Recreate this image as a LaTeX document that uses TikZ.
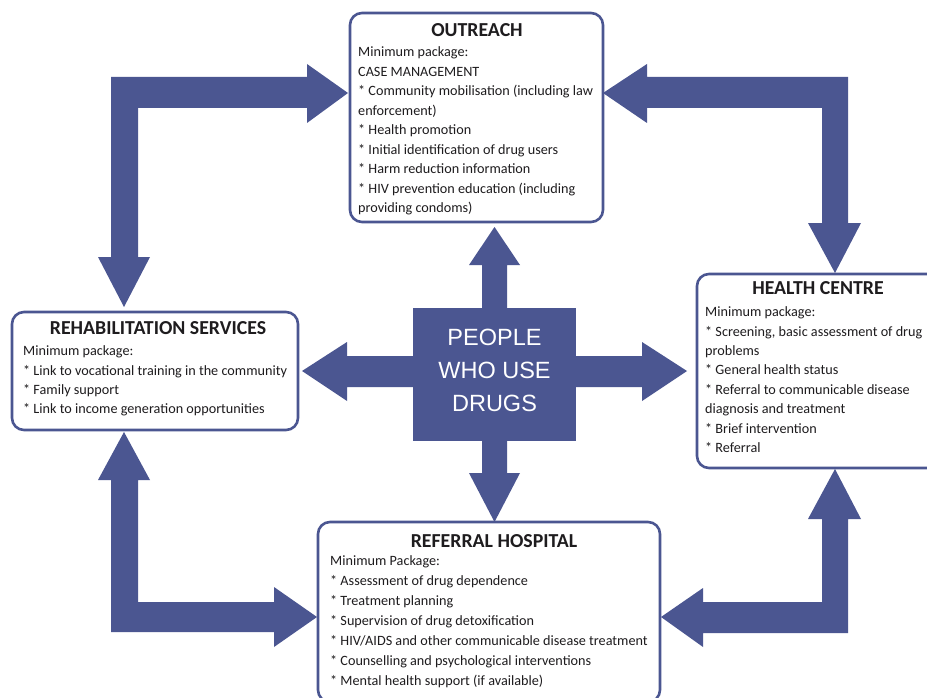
\documentclass[tikz,border=0pt]{standalone}
\usepackage{fontspec}
\setmainfont{Carlito}
\newfontfamily\arialfont{Liberation Sans}
\definecolor{bblue}{RGB}{75,86,145}
\definecolor{ink}{RGB}{30,28,30}
\tikzset{
  box/.style={draw=bblue, line width=2.6pt, fill=white, rounded corners=12pt},
  blockarrow/.style={fill=bblue, draw=none},
  boxtitle/.style={inner sep=0pt, anchor=center, text=ink, font=\fontsize{19.8}{22}\selectfont\bfseries},
  boxbody/.style={inner sep=0pt, anchor=north west, align=left, text=ink},
  centertext/.style={inner sep=0pt, align=center, text=white, font=\arialfont\fontsize{23.5}{33}\selectfont}
}
\newcommand{\fs}[1]{\fontsize{14.2}{#1}\selectfont}
\newcommand{\fst}{\rule{0pt}{14pt}}
\begin{document}
\begin{tikzpicture}[x=1pt,y=-1pt]
\useasboundingbox (0,0) rectangle (927,698);
\clip (0,0) rectangle (927,698);
\fill[white] (0,0) rectangle (927,698);

% boxes
\draw[box] (350,13) rectangle (603,222);
\draw[box] (697,274) rectangle (942,468);
\draw[box] (12,312) rectangle (298,430);
\draw[box] (318,522) rectangle (660,702);
\fill[bblue] (413,308) rectangle (576,441);

% corner arrows
\fill[blockarrow] (124,307) -- (150,257) -- (138,257) -- (138,108) -- (307,108) -- (307,123) -- (348,93) -- (307,64) -- (307,77) -- (111,77) -- (111,257) -- (98,257) -- cycle;
\fill[blockarrow] (603,93) -- (647,64) -- (647,77) -- (848,77) -- (848,223) -- (861,223) -- (835,273) -- (808,223) -- (822,223) -- (822,108) -- (647,108) -- (647,123) -- cycle;
\fill[blockarrow] (124,432) -- (150,480) -- (138,480) -- (138,602) -- (274,602) -- (274,587) -- (317,617) -- (274,647) -- (274,632) -- (111,632) -- (111,480) -- (98,480) -- cycle;
\fill[blockarrow] (835,469) -- (861,519) -- (848,519) -- (848,633) -- (703,633) -- (703,647) -- (661,617) -- (703,588) -- (703,602) -- (822,602) -- (822,519) -- (808,519) -- cycle;

% center arrows
\fill[blockarrow] (494.5,227) -- (520,265) -- (507,265) -- (507,310) -- (482,310) -- (482,265) -- (469,265) -- cycle;
\fill[blockarrow] (494.5,522) -- (520,473) -- (507,473) -- (507,439) -- (482,439) -- (482,473) -- (469,473) -- cycle;
\fill[blockarrow] (302,371) -- (347,342) -- (347,356) -- (415,356) -- (415,387) -- (347,387) -- (347,401) -- cycle;
\fill[blockarrow] (687,371) -- (642,342) -- (642,356) -- (574,356) -- (574,387) -- (642,387) -- (642,401) -- cycle;

\node[centertext] (pwud) at (494.5,370) {PEOPLE\\WHO USE\\DRUGS};

% titles
\node[boxtitle] (outT) at (477,30) {OUTREACH};
\node[boxtitle] (hcT) at (818,288) {HEALTH CENTRE};
\node[boxtitle] (rhT) at (158,328) {REHABILITATION SERVICES};
\node[boxtitle] (rfT) at (494,541) {REFERRAL HOSPITAL};

% bodies
\node[boxbody, font=\fs{19.5}] (outB) at (358,42.5) {\fst Minimum package:\\
CASE MANAGEMENT\\
* Community mobilisation (including law\\
enforcement)\\
* Health promotion\\
* Initial identification of drug users\\
* Harm reduction information\\
* HIV prevention education (including\\
providing condoms)};

\node[boxbody, font=\fs{19.43}] (hcB) at (705,302.5) {\fst Minimum package:\\
* Screening, basic assessment of drug\\
problems\\
* General health status\\
* Referral to communicable disease\\
diagnosis and treatment\\
* Brief intervention\\
* Referral};

\node[boxbody, font=\fs{19.33}] (rhB) at (23,341.5) {\fst Minimum package:\\
* Link to vocational training in the community\\
* Family support\\
* Link to income generation opportunities};

\node[boxbody, font=\fs{20}] (rfB) at (330,551.5) {\fst Minimum Package:\\
* Assessment of drug dependence\\
* Treatment planning\\
* Supervision of drug detoxification\\
* HIV/AIDS and other communicable disease treatment\\
* Counselling and psychological interventions\\
* Mental health support (if available)};
\end{tikzpicture}
\end{document}
